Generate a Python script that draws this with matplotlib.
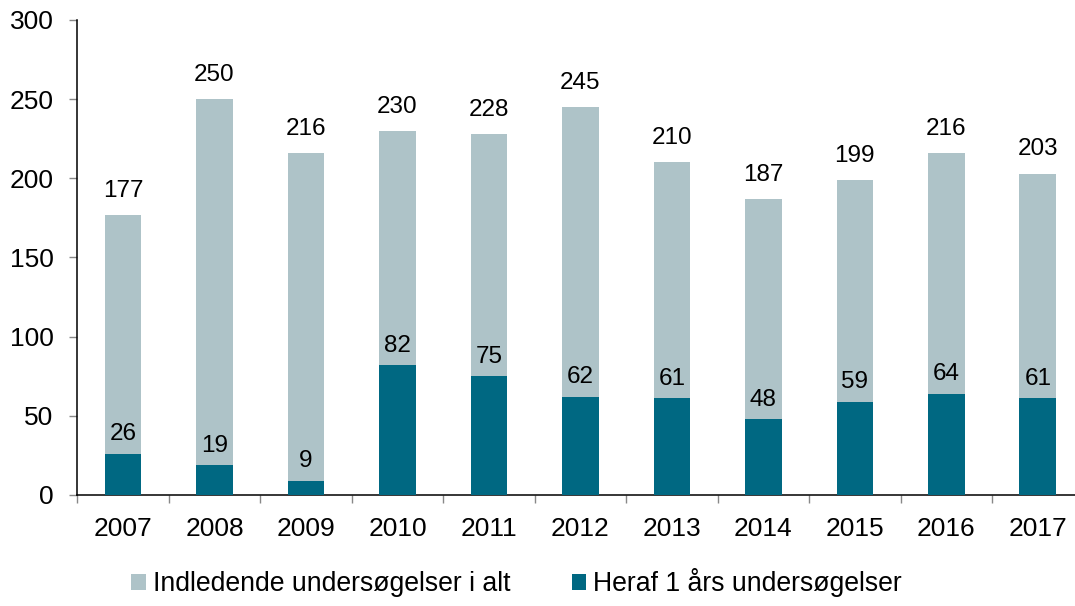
import matplotlib.pyplot as plt
import numpy as np

plt.rcParams['font.family'] = ['Liberation Sans', 'DejaVu Sans']

years = ['2007', '2008', '2009', '2010', '2011', '2012', '2013', '2014', '2015', '2016', '2017']
total = [177, 250, 216, 230, 228, 245, 210, 187, 199, 216, 203]
one_year = [26, 19, 9, 82, 75, 62, 61, 48, 59, 64, 61]

light = '#aec3c8'
dark = '#006882'

fig = plt.figure(figsize=(10.75, 6.06), dpi=100)
ax = fig.add_axes([0.0719, 0.1832, 0.936, 0.7838])

x = np.arange(len(years))
w = 0.4
b1 = ax.bar(x, total, w, color=light, label='Indledende undersøgelser i alt', zorder=2)
b2 = ax.bar(x, one_year, w, color=dark, label='Heraf 1 års undersøgelser', zorder=3)

ax.bar_label(b1, labels=[str(v) for v in total], padding=9.5, fontsize=17.5)
ax.bar_label(b2, labels=[str(v) for v in one_year], padding=6, fontsize=17.5)

ax.set_xlim(-0.5, len(years) - 0.5)
ax.set_ylim(0, 300)
ax.set_yticks(range(0, 301, 50))
ax.set_xticks(x)
ax.set_xticklabels(years)
ax.set_xticks(np.arange(-0.5, len(years), 1), minor=True)

for s in ['top', 'right']:
    ax.spines[s].set_visible(False)
for s in ['left', 'bottom']:
    ax.spines[s].set_linewidth(1.1)

ax.tick_params(axis='y', direction='out', length=6, width=1, color='#888888', labelsize=19, pad=11)
ax.tick_params(axis='x', which='major', length=0, labelsize=19, pad=16)
ax.tick_params(axis='x', which='minor', direction='out', length=6, width=1, color='#888888')

fig.legend(handles=[b1, b2], loc='center', bbox_to_anchor=(0.4805, 0.038), ncol=2, frameon=False,
           fontsize=19.2, handlelength=0.55, handleheight=0.55, handletextpad=0.25, columnspacing=2.3)

fig.savefig('out.png', dpi=100)
